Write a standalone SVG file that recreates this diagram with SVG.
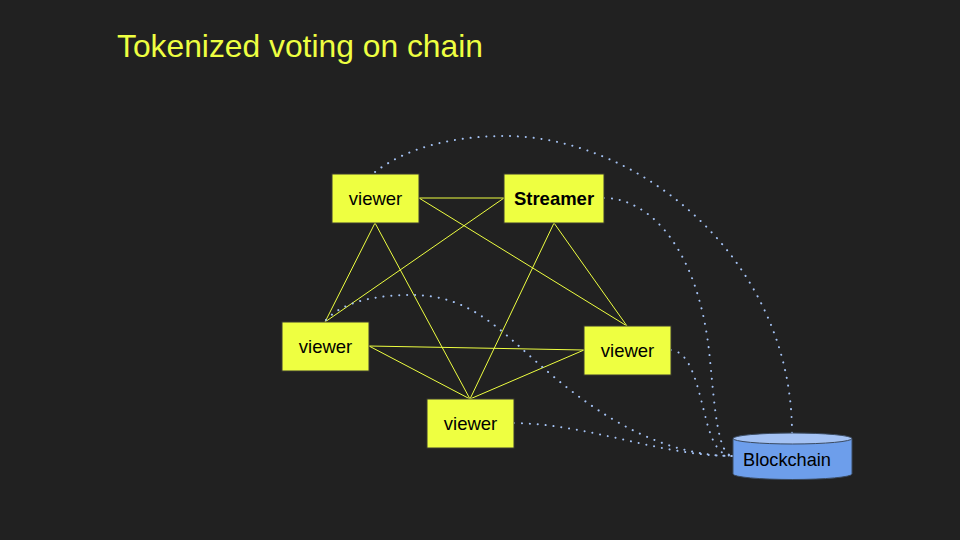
<svg xmlns="http://www.w3.org/2000/svg" width="960" height="540" viewBox="0 0 960 540">
<style>
.node rect{fill:#EEFF41;stroke:#3a3a30;stroke-width:1}
.lbl{font-family:"Liberation Sans",Arial,sans-serif;font-size:18.5px;fill:#000;text-anchor:middle}
.edge{stroke:#EEFF41;stroke-width:1;fill:none}
.dot{stroke:#A4C2F4;stroke-width:2;fill:none;stroke-linecap:round;stroke-dasharray:0.1 7.8}
</style>
<rect width="960" height="540" fill="#212121"/>
<text x="117" y="57" font-family="'Liberation Sans',Arial,sans-serif" font-size="31.8" fill="#EEFF41">Tokenized voting on chain</text>
<g id="connectors">
<line class="edge" x1="419" y1="198" x2="504" y2="198"/>
<line class="edge" x1="419" y1="198" x2="627" y2="326"/>
<line class="edge" x1="504" y1="198" x2="325" y2="322"/>
<line class="edge" x1="375" y1="223" x2="325" y2="322"/>
<line class="edge" x1="375" y1="223" x2="470" y2="399"/>
<line class="edge" x1="554" y1="223" x2="470" y2="399"/>
<line class="edge" x1="554" y1="223" x2="627" y2="326"/>
<line class="edge" x1="369" y1="346" x2="584" y2="350"/>
<line class="edge" x1="369" y1="346" x2="470" y2="399"/>
<line class="edge" x1="584" y1="350" x2="470" y2="399"/>
<path class="dot" d="M375,172 C410,145 460,136 505,136 C640,136 792,260 792,433"/>
<path class="dot" d="M604,198 C650,198 700,250 710,360 C715,410 718,456 733,456"/>
<path class="dot" d="M671,350 C690,352 696,380 705,415 C712,445 720,456 733,456"/>
<path class="dot" d="M326,320 C345,300 380,295 412,295 C470,295 500,330 540,365 C580,400 650,456 733,456"/>
<path class="dot" d="M514,423 C590,424 660,456 733,456"/>
</g>
<g id="viewer1" class="node"><rect x="332" y="174" width="87" height="49"/><text class="lbl" x="375.5" y="205">viewer</text></g>
<g id="streamer" class="node"><rect x="504" y="174" width="100" height="49"/><text class="lbl" x="554" y="205" font-weight="bold">Streamer</text></g>
<g id="viewer2" class="node"><rect x="282" y="322" width="87" height="49"/><text class="lbl" x="325.5" y="353">viewer</text></g>
<g id="viewer3" class="node"><rect x="584" y="326" width="87" height="49"/><text class="lbl" x="627.5" y="357">viewer</text></g>
<g id="viewer4" class="node"><rect x="427" y="399" width="87" height="49"/><text class="lbl" x="470.5" y="430">viewer</text></g>
<g id="blockchain">
<path d="M733,438.5 L733,474 A59.5,5.5 0 0 0 852,474 L852,438.5" fill="#6D9EEB" stroke="#3a4a60" stroke-width="1"/>
<ellipse cx="792.5" cy="438.5" rx="59.5" ry="5.5" fill="#A4C2F4" stroke="#3a4a60" stroke-width="1"/>
<text x="787" y="466" font-family="'Liberation Sans',Arial,sans-serif" font-size="18.2" fill="#000" text-anchor="middle">Blockchain</text>
</g>
</svg>
